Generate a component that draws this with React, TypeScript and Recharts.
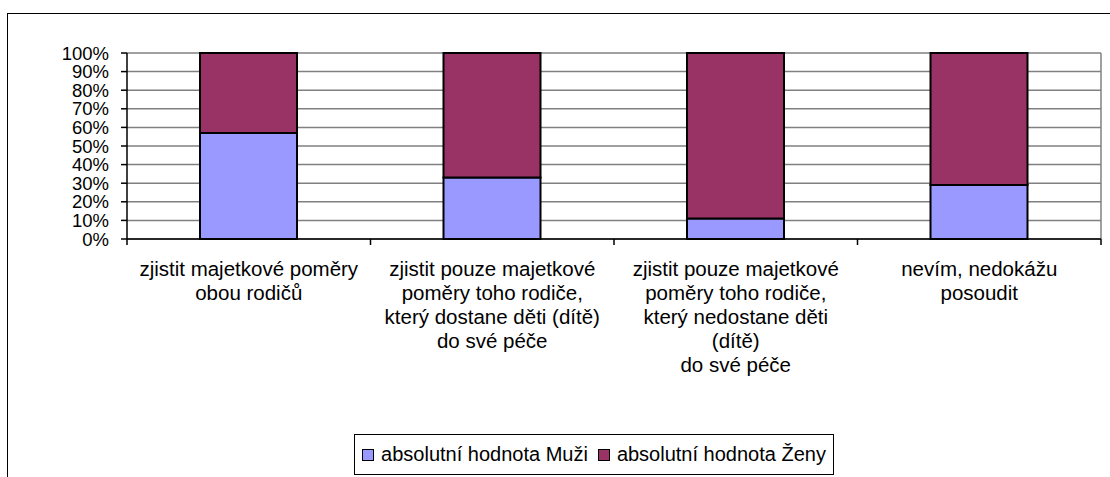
import { BarChart, Bar, XAxis, YAxis, CartesianGrid, Legend, ReferenceLine } from "recharts";

const categories = [
  "zjistit majetkové poměry\nobou rodičů",
  "zjistit pouze majetkové\npoměry toho rodiče,\nkterý dostane děti (dítě)\ndo své péče",
  "zjistit pouze majetkové\npoměry toho rodiče,\nkterý nedostane děti\n(dítě)\ndo své péče",
  "nevím, nedokážu\nposoudit",
];
const muzi = [57, 33, 11, 29];
const zeny = [43, 67, 89, 71];
const yTicks = [0, 0.1, 0.2, 0.3, 0.4, 0.5, 0.6, 0.7, 0.8, 0.9, 1];
const edgeTicks = [0, 1, 2, 3, 4];
const seriesNames = ["absolutní hodnota Muži", "absolutní hodnota Ženy"];
const seriesColors = ["#9999FF", "#993366"];

const data = categories.map((name, i) => ({ name, idx: i, muzi: muzi[i], zeny: zeny[i] }));

const FONT = "'Liberation Sans', Arial, sans-serif";

function CategoryTick({ x, y, payload }: any) {
  const lines = String(payload.value).split("\n");
  return (
    <text x={x} y={y + 36} textAnchor="middle" fontSize={20.5} fill="#000" fontFamily={FONT}>
      {lines.map((l, i) => (
        <tspan key={i} x={x} dy={i === 0 ? 0 : 24}>
          {l}
        </tspan>
      ))}
    </text>
  );
}

function LegendBox() {
  return (
    <div
      style={{
        border: "1px solid #000",
        height: 39,
        display: "flex",
        alignItems: "center",
        justifyContent: "center",
        fontFamily: FONT,
        fontSize: 20,
        color: "#000",
        background: "#fff",
        whiteSpace: "nowrap",
      }}
    >
      {seriesNames.map((n, i) => (
        <span key={n} style={{ display: "flex", alignItems: "center", marginRight: i === 0 ? 10 : 0 }}>
          <span
            style={{
              display: "inline-block",
              width: 10,
              height: 10,
              border: "1px solid #000",
              background: seriesColors[i],
              marginRight: 7,
            }}
          />
          {n}
        </span>
      ))}
    </div>
  );
}

export default function App() {
  return (
    <div style={{ position: "fixed", left: 0, top: 0, width: 1110, height: 477, background: "#fff", overflow: "hidden" }}>
      <div style={{ position: "absolute", left: 7, top: 13, width: 1200, height: 600, border: "1px solid #000" }} />
      <div style={{ position: "absolute", left: 0, top: 0 }}>
        <BarChart
          width={1110}
          height={477}
          data={data}
          stackOffset="expand"
          margin={{ top: 53, right: 9, left: 67, bottom: 38 }}
          style={{ fontFamily: FONT }}
        >
          <CartesianGrid xAxisId="cat" vertical={false} stroke="#808080" strokeWidth={1.5} />
          <XAxis
            xAxisId="aEdge"
            dataKey="idx"
            type="number"
            domain={[0, 4]}
            ticks={edgeTicks}
            interval={0}
            allowDataOverflow
            height={1}
            tickFormatter={() => ""}
            tickSize={6}
            stroke="#000"
            strokeWidth={1.5}
          />
          <XAxis
            xAxisId="cat"
            dataKey="name"
            height={199}
            axisLine={false}
            tickLine={false}
            tickSize={0}
            tickMargin={0}
            interval={0}
            tick={<CategoryTick />}
          />
          <YAxis
            width={60}
            domain={[0, 1]}
            ticks={yTicks}
            interval={0}
            tickFormatter={(v: number) => `${Math.round(v * 100)}%`}
            tick={{ fontSize: 18.5, fill: "#000", fontFamily: FONT }}
            tickSize={6}
            tickMargin={12}
            stroke="#000"
            strokeWidth={1.5}
          />
          <ReferenceLine xAxisId="aEdge" x={4} stroke="#808080" strokeWidth={1.5} />
          <Bar
            xAxisId="cat"
            dataKey="muzi"
            name={seriesNames[0]}
            stackId="a"
            fill={seriesColors[0]}
            stroke="#000"
            strokeWidth={2}
            barSize={97}
            isAnimationActive={false}
          />
          <Bar
            xAxisId="cat"
            dataKey="zeny"
            name={seriesNames[1]}
            stackId="a"
            fill={seriesColors[1]}
            stroke="#000"
            strokeWidth={2}
            barSize={97}
            isAnimationActive={false}
          />
          <Legend
            layout="horizontal"
            verticalAlign="middle"
            align="center"
            content={<LegendBox />}
            wrapperStyle={{ left: 354, top: 434, width: 480, height: 41 }}
          />
        </BarChart>
      </div>
    </div>
  );
}
